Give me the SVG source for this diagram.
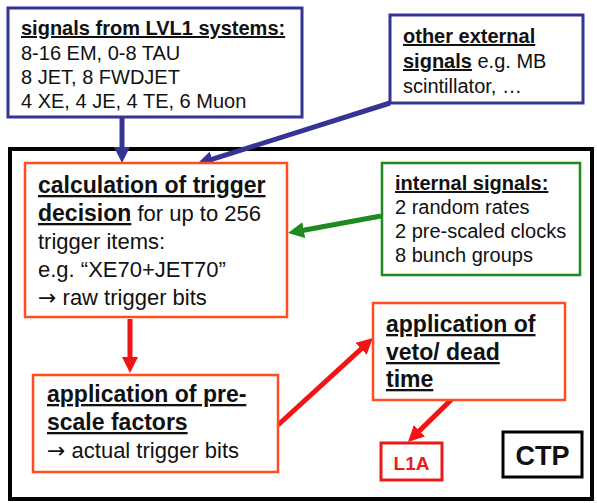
<svg xmlns="http://www.w3.org/2000/svg" width="597" height="503" viewBox="0 0 597 503">
<style>
text{font-family:"Liberation Sans",Arial,sans-serif;fill:#111}
.t20{font-size:20px}
.t22{font-size:22px}
.b{font-weight:bold}
.t22 .b{font-size:23px}
.u{text-decoration:underline}
.arw{font-family:"DejaVu Sans",sans-serif}
.blue{fill:#fff;stroke:#343494;stroke-width:3}
.org{fill:#fff;stroke:#ff4d1f;stroke-width:2.5}
.grn{fill:#fff;stroke:#1f8a1f;stroke-width:2.5}
.ab{stroke:#343494;stroke-width:5;fill:none}
.ar{stroke:#f01414;stroke-width:5;fill:none}
.ag{stroke:#1f8a1f;stroke-width:5;fill:none}
</style>
<defs>
<marker id="hb" markerUnits="userSpaceOnUse" markerWidth="18" markerHeight="18" refX="3" refY="8" orient="auto"><path d="M0,0 L16,8 L0,16 z" fill="#343494"/></marker>
<marker id="hr" markerUnits="userSpaceOnUse" markerWidth="18" markerHeight="18" refX="3" refY="8" orient="auto"><path d="M0,0 L16,8 L0,16 z" fill="#f01414"/></marker>
<marker id="hg" markerUnits="userSpaceOnUse" markerWidth="18" markerHeight="18" refX="3" refY="8" orient="auto"><path d="M0,0 L16,8 L0,16 z" fill="#1f8a1f"/></marker>
</defs>
<rect width="597" height="503" fill="#fff"/>
<g id="ctp-frame"><rect x="10" y="149" width="582" height="350" fill="none" stroke="#000" stroke-width="4"/></g>
<g id="connectors">
<line class="ab" x1="122" y1="117" x2="122" y2="150" marker-end="url(#hb)"/>
<line class="ab" x1="390" y1="103" x2="209.4" y2="160.1" marker-end="url(#hb)"/>
<line class="ag" x1="381" y1="216" x2="300.8" y2="230.7" marker-end="url(#hg)"/>
<line class="ar" x1="130" y1="319" x2="130" y2="360" marker-end="url(#hr)"/>
<line class="ar" x1="278" y1="425" x2="363.4" y2="346.8" marker-end="url(#hr)"/>
<line class="ar" x1="452" y1="399" x2="417.3" y2="432.9" marker-end="url(#hr)"/>
</g>
<g id="lvl1">
<rect class="blue" x="8" y="8" width="294" height="109"/>
<text class="t20" x="21" y="35"><tspan class="b u">signals from LVL1 systems:</tspan></text>
<text class="t20" x="21" y="60">8-16 EM, 0-8 TAU</text>
<text class="t20" x="21" y="84">8 JET, 8 FWDJET</text>
<text class="t20" x="21" y="108">4 XE, 4 JE, 4 TE, 6 Muon</text>
</g>
<g id="external">
<rect class="blue" x="390" y="15" width="193" height="88"/>
<text class="t20" x="403" y="43"><tspan class="b u">other external</tspan></text>
<text class="t20" x="403" y="68"><tspan class="b u">signals</tspan> e.g. MB</text>
<text class="t20" x="403" y="93">scintillator, …</text>
</g>
<g id="calc">
<rect class="org" x="25" y="163" width="262" height="154"/>
<text class="t22" x="38" y="193"><tspan class="b u">calculation of trigger</tspan></text>
<text class="t22" x="38" y="221"><tspan class="b u">decision</tspan> for up to 256</text>
<text class="t22" x="38" y="249">trigger items:</text>
<text class="t22" x="38" y="277">e.g. “XE70+JET70”</text>
<text class="t22" x="38" y="305"><tspan class="arw">→</tspan> raw trigger bits</text>
</g>
<g id="internal">
<rect class="grn" x="382" y="163" width="198" height="112"/>
<text class="t20" x="395" y="190"><tspan class="b u">internal signals:</tspan></text>
<text class="t20" x="395" y="214">2 random rates</text>
<text class="t20" x="395" y="238">2 pre-scaled clocks</text>
<text class="t20" x="395" y="262">8 bunch groups</text>
</g>
<g id="prescale">
<rect class="org" x="33" y="375" width="245" height="97"/>
<text class="t22" x="47" y="402"><tspan class="b u">application of pre-</tspan></text>
<text class="t22" x="47" y="430"><tspan class="b u">scale factors</tspan></text>
<text class="t22" x="47" y="458"><tspan class="arw">→</tspan> actual trigger bits</text>
</g>
<g id="veto">
<rect class="org" x="373" y="303" width="192" height="97"/>
<text class="t22" x="386" y="332"><tspan class="b u">application of</tspan></text>
<text class="t22" x="386" y="360"><tspan class="b u">veto/ dead</tspan></text>
<text class="t22" x="386" y="387"><tspan class="b u">time</tspan></text>
</g>
<g id="l1a">
<rect x="381" y="443" width="61" height="37" fill="#fff" stroke="#e81c1c" stroke-width="3"/>
<text x="411.5" y="470" text-anchor="middle" font-size="19" font-weight="bold" style="fill:#e81c1c">L1A</text>
</g>
<g id="ctp">
<rect x="503" y="432" width="79" height="45" fill="#fff" stroke="#000" stroke-width="3"/>
<text x="542.5" y="465" text-anchor="middle" font-size="27" font-weight="bold">CTP</text>
</g>
</svg>
